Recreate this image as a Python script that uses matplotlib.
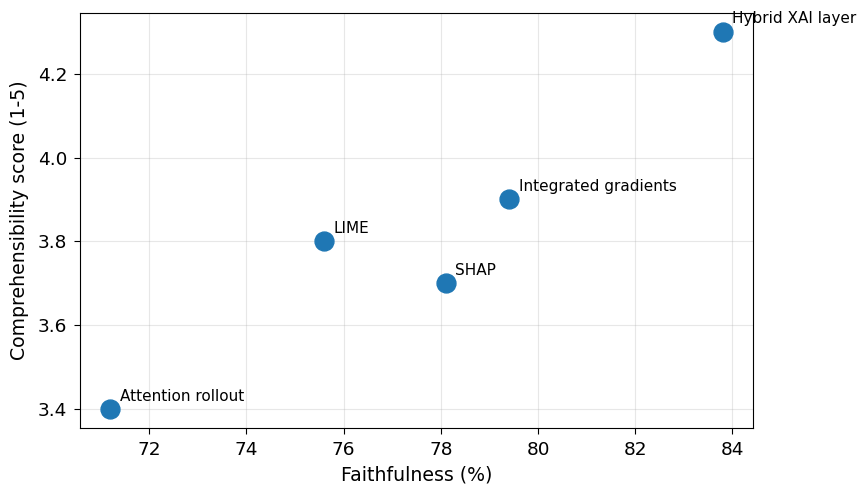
import matplotlib
matplotlib.use("Agg")
import matplotlib.pyplot as plt

methods = ["Attention rollout", "LIME", "SHAP", "Integrated gradients", "Hybrid XAI layer"]
faithfulness = [71.2, 75.6, 78.1, 79.4, 83.8]
comprehensibility = [3.4, 3.8, 3.7, 3.9, 4.3]

fig = plt.figure(figsize=(8.58, 4.91), dpi=100)
ax = fig.add_axes([0.093, 0.128, 0.785, 0.846])

ax.scatter(faithfulness, comprehensibility, s=185, color="#1f77b4", zorder=3)
for name, x, y in zip(methods, faithfulness, comprehensibility):
    ax.annotate(name, (x, y), xytext=(7, 6), textcoords="offset points",
                fontsize=11, annotation_clip=False)

ax.set_xlabel("Faithfulness (%)", fontsize=13.6, labelpad=5)
ax.set_ylabel("Comprehensibility score (1-5)", fontsize=13.6, labelpad=6.5)
ax.tick_params(labelsize=13.3, pad=4.5, length=4.5)
ax.grid(True, alpha=0.3)

fig.savefig("out.png", dpi=100)
